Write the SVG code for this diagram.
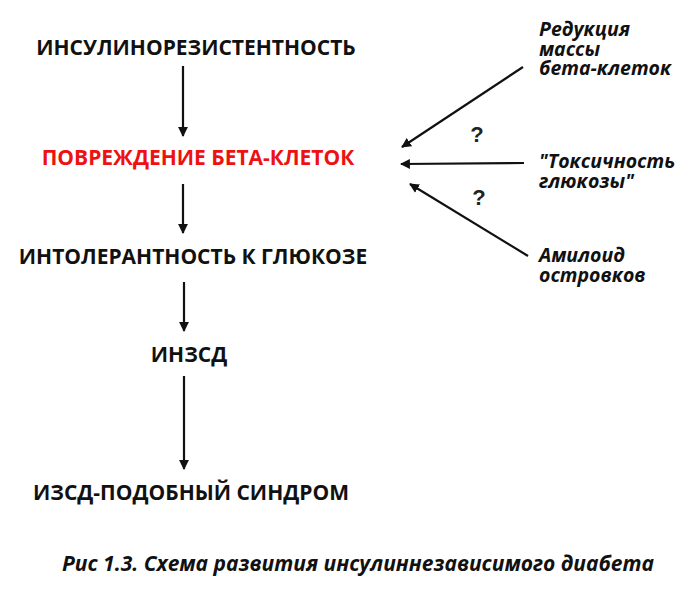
<svg xmlns="http://www.w3.org/2000/svg" width="700" height="604" viewBox="0 0 700 604">
<style>
.n{font-family:"Open Sans","Liberation Sans",sans-serif;font-weight:bold;font-size:21px;fill:#111;text-anchor:middle}
.r{fill:#ee1111}
.s{font-family:"Open Sans","Liberation Sans",sans-serif;font-weight:bold;font-style:italic;font-size:19.5px;fill:#111}
.k{font-size:21px}
.q{font-family:"Liberation Sans",sans-serif;font-weight:bold;font-size:22px;fill:#222;text-anchor:middle}
.c{stroke:#111;stroke-width:2.2;fill:none;marker-end:url(#a)}
</style>
<defs>
<marker id="a" viewBox="0 0 10 10" refX="9" refY="5" markerWidth="4.5" markerHeight="4.5" orient="auto" markerUnits="strokeWidth">
<path d="M0,0 L10,5 L0,10 z" fill="#111"/>
</marker>
</defs>
<rect width="700" height="604" fill="#fff"/>
<g id="connectors">
<line class="c" x1="183" y1="66" x2="183" y2="136"/>
<line class="c" x1="183" y1="184" x2="183" y2="233"/>
<line class="c" x1="184" y1="282" x2="184" y2="331"/>
<line class="c" x1="184" y1="376" x2="184" y2="469"/>
<line class="c" x1="523" y1="67" x2="402" y2="147"/>
<line class="c" x1="524" y1="163" x2="401" y2="164"/>
<line class="c" x1="528" y1="256" x2="410" y2="184"/>
</g>
<g id="n1"><text class="n" x="196" y="55">ИНСУЛИНОРЕЗИСТЕНТНОСТЬ</text></g>
<g id="n2"><text class="n r" x="198" y="165">ПОВРЕЖДЕНИЕ БЕТА-КЛЕТОК</text></g>
<g id="n3"><text class="n" x="193" y="264">ИНТОЛЕРАНТНОСТЬ К ГЛЮКОЗЕ</text></g>
<g id="n4"><text class="n" x="189" y="362">ИНЗСД</text></g>
<g id="n5"><text class="n" x="191" y="500">ИЗСД-ПОДОБНЫЙ СИНДРОМ</text></g>
<g id="f1"><text class="s" x="539" y="36">Редукция</text><text class="s" x="539" y="56">массы</text><text class="s" x="539" y="75">бета-клеток</text></g>
<g id="f2"><text class="s" x="539" y="168">"Токсичность</text><text class="s" x="539" y="188">глюкозы"</text></g>
<g id="f3"><text class="s" x="539" y="262">Амилоид</text><text class="s" x="539" y="282">островков</text></g>
<g id="q1"><text class="q" x="477" y="142">?</text></g>
<g id="q2"><text class="q" x="479" y="205">?</text></g>
<g id="caption"><text class="s k" x="62" y="571">Рис 1.3. Схема развития инсулиннезависимого диабета</text></g>
</svg>
